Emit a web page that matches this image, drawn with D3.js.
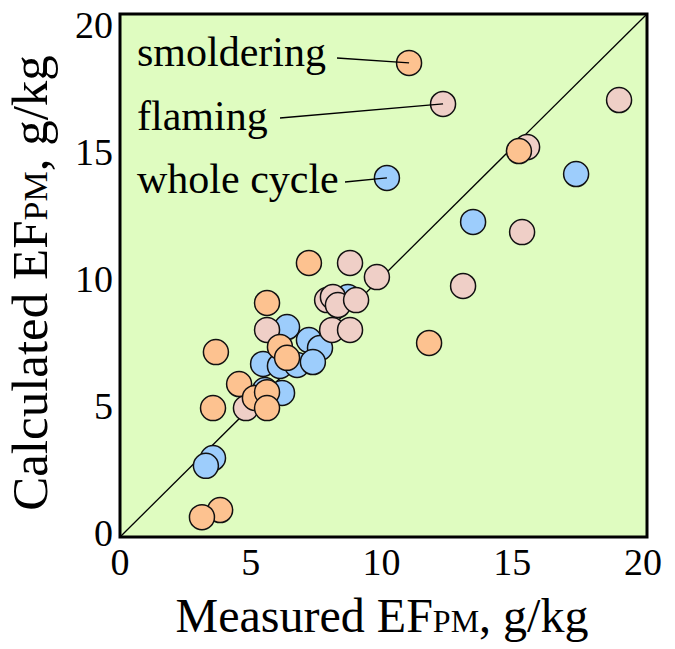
<!DOCTYPE html>
<html>
<head>
<meta charset="utf-8">
<script src="https://cdn.jsdelivr.net/npm/d3@7"></script>
<style>
  body { margin: 0; background: #fff; }
  text { font-family: "Liberation Serif", "DejaVu Serif", serif; fill: #000; }
</style>
</head>
<body>
<div id="chart"></div>
<script>
const width = 675;
const height = 649;
const margin = {top: 14, right: 28, bottom: 112, left: 120};

// measured / calculated EF_PM, g/kg
const smolderX = [10.97, 15.14, 11.73, 7.17, 5.58, 6.07, 6.34, 3.64, 4.52, 5.12, 5.58, 5.58, 3.53, 3.80, 3.11];
const smolderY = [18.13, 14.76, 7.42, 10.48, 8.95, 7.27, 6.85, 7.07, 5.85, 5.32, 5.54, 4.93, 4.93, 1.03, 0.76];

const flamingX = [12.26, 18.94, 15.45, 15.26, 13.02, 9.75, 8.73, 7.86, 8.08, 8.27, 8.96, 8.05, 8.73, 5.58, 4.78];
const flamingY = [16.56, 16.71, 14.91, 11.66, 9.60, 9.94, 10.48, 9.06, 9.18, 8.87, 9.06, 7.92, 7.92, 7.92, 4.93];

const wholeX = [10.13, 17.31, 13.40, 8.65, 6.34, 7.17, 7.59, 5.43, 6.07, 6.72, 7.32, 5.50, 6.15, 3.53, 3.26];
const wholeY = [13.73, 13.88, 12.05, 9.18, 8.03, 7.53, 7.23, 6.62, 6.54, 6.58, 6.69, 5.62, 5.51, 3.02, 2.72];

const ticks = [0, 5, 10, 15, 20];

const series = [
  {name: "whole cycle", xs: wholeX, ys: wholeY, color: "#9dcdfc"},
  {name: "flaming", xs: flamingX, ys: flamingY, color: "#efcfc7"},
  {name: "smoldering", xs: smolderX, ys: smolderY, color: "#fdc290"}
];

const svg = d3.select("#chart").append("svg")
  .attr("width", width)
  .attr("height", height);

const x = d3.scaleLinear().domain([0, 20]).range([margin.left, width - margin.right]);
const y = d3.scaleLinear().domain([0, 20]).range([height - margin.bottom, margin.top]);
// the y tick labels sit a little tighter than the axis itself
const yLab = d3.scaleLinear().domain([0, 20]).range([546, 38]);

// plot background
svg.append("rect")
  .attr("x", x(0)).attr("y", y(20))
  .attr("width", x(20) - x(0)).attr("height", y(0) - y(20))
  .attr("fill", "#dffcc0");

// 1:1 line
svg.append("line")
  .attr("x1", x(0)).attr("y1", y(0))
  .attr("x2", x(20)).attr("y2", y(20))
  .attr("stroke", "#000").attr("stroke-width", 1.3);

const labels = [
  {text: "smoldering", lx: 137, ly: 66, ex: 337, ey: 58, px: smolderX[0], py: smolderY[0]},
  {text: "flaming", lx: 137, ly: 130, ex: 280, ey: 118, px: flamingX[0], py: flamingY[0]},
  {text: "whole cycle", lx: 137, ly: 193, ex: 345, ey: 182, px: wholeX[0], py: wholeY[0]}
];

series.forEach(s => {
  svg.append("g").selectAll("circle")
    .data(s.xs.map((v, i) => [v, s.ys[i]]))
    .enter()
    .append("circle")
    .attr("cx", d => x(d[0]))
    .attr("cy", d => y(d[1]))
    .attr("r", 12.5)
    .attr("fill", s.color)
    .attr("stroke", "#111")
    .attr("stroke-width", 1.5);
});

// labels + leader lines
labels.forEach(l => {
  svg.append("line")
    .attr("x1", l.ex).attr("y1", l.ey)
    .attr("x2", x(l.px)).attr("y2", y(l.py))
    .attr("stroke", "#000").attr("stroke-width", 1.3);
  svg.append("text")
    .attr("x", l.lx).attr("y", l.ly)
    .attr("font-size", "42px")
    .text(l.text);
});

// frame
svg.append("rect")
  .attr("x", x(0)).attr("y", y(20))
  .attr("width", x(20) - x(0)).attr("height", y(0) - y(20))
  .attr("fill", "none")
  .attr("stroke", "#000").attr("stroke-width", 3);

// tick labels
svg.append("g").selectAll("text")
  .data(ticks)
  .enter().append("text")
  .attr("x", d => x(d) - (d / 20) * 4)
  .attr("y", y(0) + 38)
  .attr("text-anchor", "middle")
  .attr("font-size", "38px")
  .text(d => d);

svg.append("g").selectAll("text")
  .data(ticks)
  .enter().append("text")
  .attr("x", x(0) - 7)
  .attr("y", d => yLab(d))
  .attr("text-anchor", "end")
  .attr("font-size", "38px")
  .text(d => d);

// axis titles
const xt = svg.append("text")
  .attr("x", 382)
  .attr("y", 632)
  .attr("text-anchor", "middle")
  .attr("font-size", "48px");
xt.append("tspan").text("Measured EF");
xt.append("tspan").attr("font-size", "32px").text("PM");
xt.append("tspan").text(", g/kg");

const yt = svg.append("text")
  .attr("transform", "translate(47, 283) rotate(-90)")
  .attr("text-anchor", "middle")
  .attr("font-size", "51px");
yt.append("tspan").text("Calculated EF");
yt.append("tspan").attr("font-size", "34px").text("PM");
yt.append("tspan").text(", g/kg");
</script>
</body>
</html>
